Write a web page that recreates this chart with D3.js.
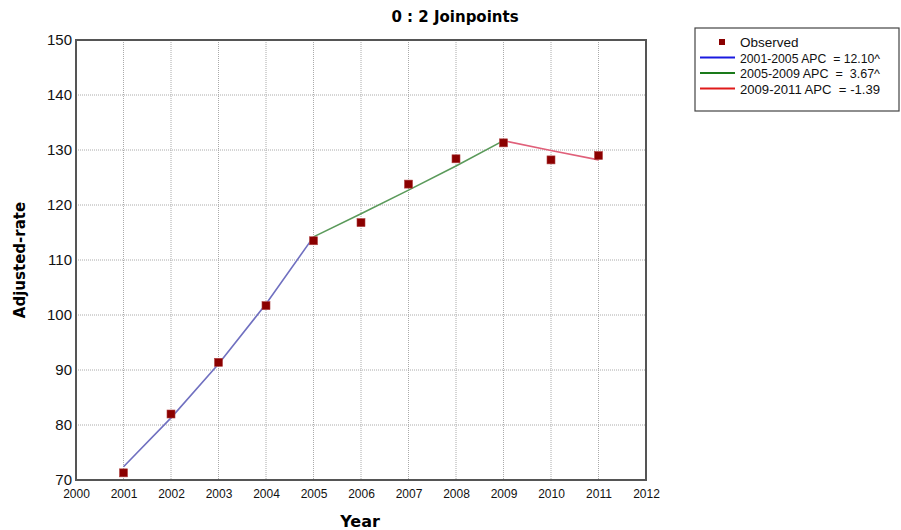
<!DOCTYPE html>
<html>
<head>
<meta charset="utf-8">
<script src="https://cdn.jsdelivr.net/npm/d3@7"></script>
<style>
  body { margin: 0; background: #fff; }
  svg text { font-family: "Liberation Sans", Arial, sans-serif; }
</style>
</head>
<body>
<svg id="chart" width="901" height="530"></svg>
<script>
// observed values
const years = [2001, 2002, 2003, 2004, 2005, 2006, 2007, 2008, 2009, 2010, 2011];
const observed = [71.3, 82.0, 91.4, 101.7, 113.5, 116.8, 123.8, 128.4, 131.3, 128.2, 129.0];
// fitted joinpoint segments
const seg1Years = [2001, 2002, 2003, 2004, 2005];
const seg1Fit = [72.4, 81.3, 91.1, 102.0, 114.2];
const seg2Years = [2005, 2006, 2007, 2008, 2009];
const seg2Fit = [114.2, 118.4, 122.7, 127.1, 131.7];
const seg3Years = [2009, 2010, 2011];
const seg3Fit = [131.7, 129.9, 128.2];
const legendLabels = ["Observed", "2001-2005 APC  = 12.10^", "2005-2009 APC  =  3.67^", "2009-2011 APC  = -1.39"];
const xTicks = [2000, 2001, 2002, 2003, 2004, 2005, 2006, 2007, 2008, 2009, 2010, 2011, 2012];
const yTicks = [70, 80, 90, 100, 110, 120, 130, 140, 150];

const svg = d3.select("#chart");
const pLeft = 76, pRight = 646, pTop = 40, pBottom = 480;

const x = d3.scaleLinear().domain([2000, 2012]).range([pLeft, pRight]);
const y = d3.scaleLinear().domain([70, 150]).range([pBottom, pTop]);

// grid
svg.append("g")
    .selectAll("line")
    .data(xTicks.slice(1, -1))
    .enter().append("line")
    .attr("x1", d => x(d)).attr("x2", d => x(d))
    .attr("y1", pTop).attr("y2", pBottom)
    .attr("stroke", "#aaa").attr("stroke-width", 1)
    .attr("stroke-dasharray", "1,1");
svg.append("g")
    .selectAll("line")
    .data(yTicks.slice(1, -1))
    .enter().append("line")
    .attr("x1", pLeft).attr("x2", pRight)
    .attr("y1", d => y(d)).attr("y2", d => y(d))
    .attr("stroke", "#aaa").attr("stroke-width", 1)
    .attr("stroke-dasharray", "1,1");

// axes (labels only, frame drawn below)
const xAxis = svg.append("g")
    .attr("transform", "translate(0," + pBottom + ")")
    .call(d3.axisBottom(x).tickValues(xTicks).tickFormat(d3.format("d")).tickSize(0).tickPadding(9));
xAxis.select(".domain").remove();
xAxis.selectAll("text").attr("font-size", 12).attr("fill", "#111")
    .style("font-family", "'Liberation Sans', Arial, sans-serif");

const yAxis = svg.append("g")
    .attr("transform", "translate(" + pLeft + ",0)")
    .call(d3.axisLeft(y).tickValues(yTicks).tickSize(0).tickPadding(4));
yAxis.select(".domain").remove();
yAxis.selectAll("text").attr("font-size", 15).attr("fill", "#111")
    .style("font-family", "'Liberation Sans', Arial, sans-serif");

// frame
svg.append("rect")
    .attr("x", pLeft).attr("y", pTop)
    .attr("width", pRight - pLeft).attr("height", pBottom - pTop)
    .attr("fill", "none").attr("stroke", "#555").attr("stroke-width", 2);

// fitted lines
const line = d3.line().x(d => x(d[0])).y(d => y(d[1]));
const segs = [
    { yrs: seg1Years, fit: seg1Fit, color: "#7070c0" },
    { yrs: seg2Years, fit: seg2Fit, color: "#5a9a5a" },
    { yrs: seg3Years, fit: seg3Fit, color: "#e0607a" }
];
segs.forEach(function (s) {
    svg.append("path")
        .datum(d3.zip(s.yrs, s.fit))
        .attr("d", line)
        .attr("fill", "none")
        .attr("stroke", s.color)
        .attr("stroke-width", 1.6);
});

// observed points
svg.append("g")
    .selectAll("rect")
    .data(d3.zip(years, observed))
    .enter().append("rect")
    .attr("x", d => x(d[0]) - 4)
    .attr("y", d => y(d[1]) - 4)
    .attr("width", 8).attr("height", 8)
    .attr("fill", "#8b0000")
    .attr("stroke", "#b04040").attr("stroke-width", 0.6);

// title + axis titles
svg.append("text")
    .attr("x", 455).attr("y", 22)
    .attr("text-anchor", "middle")
    .attr("font-size", 15).attr("font-weight", "bold")
    .style("font-family", "'DejaVu Sans', Verdana, sans-serif")
    .text("0 : 2 Joinpoints");
svg.append("text")
    .attr("x", 360).attr("y", 527)
    .attr("text-anchor", "middle")
    .attr("font-size", 16).attr("font-weight", "bold")
    .style("font-family", "'DejaVu Sans', Verdana, sans-serif")
    .text("Year");
svg.append("text")
    .attr("transform", "translate(25," + ((pTop + pBottom) / 2) + ") rotate(-90)")
    .attr("text-anchor", "middle")
    .attr("font-size", 15).attr("font-weight", "bold")
    .style("font-family", "'DejaVu Sans', Verdana, sans-serif")
    .text("Adjusted-rate");

// legend
const lg = svg.append("g");
lg.append("rect")
    .attr("x", 695).attr("y", 28).attr("width", 204).attr("height", 83)
    .attr("fill", "#fff").attr("stroke", "#444").attr("stroke-width", 1.2);
const legendColors = [null, "#1a1ae0", "#1a7a1a", "#e01a1a"];
legendLabels.forEach(function (lab, i) {
    const ly = 42 + i * 15.5;
    if (i === 0) {
        lg.append("rect").attr("x", 719).attr("y", ly - 3).attr("width", 6).attr("height", 6)
            .attr("fill", "#8b0000");
    } else {
        lg.append("line").attr("x1", 700).attr("x2", 735).attr("y1", ly).attr("y2", ly)
            .attr("stroke", legendColors[i]).attr("stroke-width", 2);
    }
    lg.append("text").attr("x", 740).attr("y", ly + 5)
        .attr("font-size", 13.5).attr("fill", "#111")
        .attr("textLength", i === 0 ? null : 140)
        .attr("lengthAdjust", "spacingAndGlyphs")
        .style("white-space", "pre")
        .text(lab);
});
</script>
</body>
</html>
